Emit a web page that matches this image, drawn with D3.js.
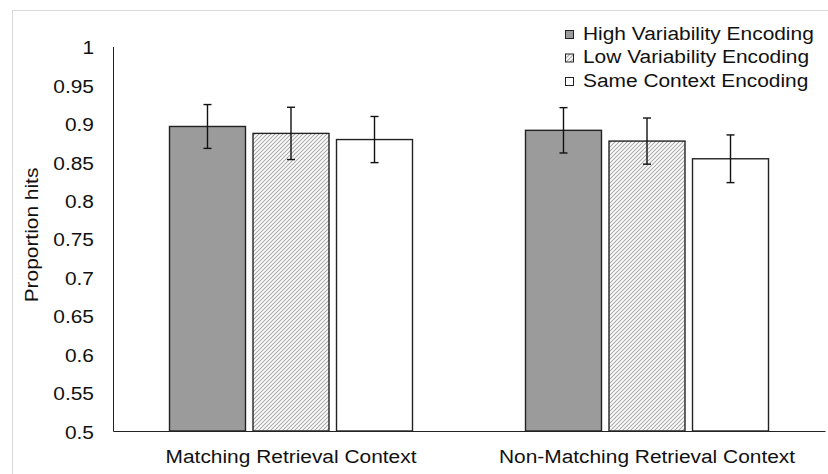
<!DOCTYPE html>
<html>
<head>
<meta charset="utf-8">
<script src="https://cdn.jsdelivr.net/npm/d3@7"></script>
<style>
  body { margin: 0; background: #fff; }
  text { font-family: "Liberation Sans", Arial, sans-serif; fill: #111; }
</style>
</head>
<body>
<div class="canvas"></div>
<script>
// Data
const groups = ['Matching Retrieval Context', 'Non-Matching Retrieval Context']
const series = ['High Variability Encoding', 'Low Variability Encoding', 'Same Context Encoding']
const means = [
  [0.896, 0.887, 0.879],
  [0.891, 0.877, 0.854]
]
const errors = [
  [0.0285, 0.034, 0.030],
  [0.0295, 0.030, 0.031]
]
const yTicks = [0.5, 0.55, 0.6, 0.65, 0.7, 0.75, 0.8, 0.85, 0.9, 0.95, 1]

const width = 828
const height = 474
const fontSize = 19
const stretch = 1.1

const svg = d3.select('.canvas')
  .append('svg')
  .attr('width', width)
  .attr('height', height)

// hatch pattern for low variability
const defs = svg.append('defs')
const hatch = defs.append('pattern')
  .attr('id', 'hatch')
  .attr('patternUnits', 'userSpaceOnUse')
  .attr('width', 4)
  .attr('height', 4)
hatch.append('rect').attr('width', 4).attr('height', 4).attr('fill', '#fff')
hatch.append('path')
  .attr('d', 'M-1,1 l2,-2 M0,4 l4,-4 M3,5 l2,-2')
  .attr('stroke', '#aaa')
  .attr('stroke-width', 1.1)

const fills = ['#9b9b9b', 'url(#hatch)', '#fff']

// outer frame
svg.append('rect')
  .attr('x', 12.5)
  .attr('y', 10.5)
  .attr('width', 840)
  .attr('height', 490)
  .attr('fill', 'none')
  .attr('stroke', '#d9d9d9')

// Scales
const plot = { left: 113, right: 825, top: 46.5, bottom: 431 }

const y = d3.scaleLinear()
  .domain([0.5, 1])
  .range([plot.bottom, plot.top])

const x0 = d3.scaleBand()
  .domain(groups)
  .range([plot.left, plot.right])

const groupPad = (x0.bandwidth() - 243) / 2
const x1 = d3.scaleBand()
  .domain(series)
  .range([groupPad, x0.bandwidth() - groupPad])
  .paddingInner(0.09)

const graph = svg.append('g')

// bars
groups.forEach((g, gi) => {
  const grp = graph.append('g').attr('transform', `translate(${x0(g)}, 0)`)
  grp.selectAll('rect')
    .data(series)
    .enter()
    .append('rect')
    .attr('x', d => x1(d))
    .attr('y', (d, i) => y(means[gi][i]))
    .attr('width', x1.bandwidth())
    .attr('height', (d, i) => plot.bottom - y(means[gi][i]))
    .attr('fill', (d, i) => fills[i])
    .attr('stroke', '#222')
    .attr('stroke-width', 1.4)

  // error bars
  series.forEach((s, i) => {
    const cx = x1(s) + x1.bandwidth() / 2
    const hi = y(means[gi][i] + errors[gi][i])
    const lo = y(means[gi][i] - errors[gi][i])
    grp.append('line')
      .attr('x1', cx).attr('x2', cx).attr('y1', hi).attr('y2', lo)
      .attr('stroke', '#111').attr('stroke-width', 1.4)
    ;[hi, lo].forEach(v => {
      grp.append('line')
        .attr('x1', cx - 4).attr('x2', cx + 4).attr('y1', v).attr('y2', v)
        .attr('stroke', '#111').attr('stroke-width', 1.4)
    })
  })
})

// Axes
const yAxis = d3.axisLeft(y).tickValues(yTicks).tickSize(0).tickFormat(d => String(d))
const yAxisGroup = svg.append('g')
  .attr('transform', `translate(${plot.left}, 0)`)
  .call(yAxis)
yAxisGroup.select('.domain').attr('stroke', '#222')
yAxisGroup.selectAll('text')
  .attr('x', -19 / stretch)
  .attr('dy', '0.38em')
  .attr('transform', `scale(${stretch},1)`)
  .style('font-size', fontSize + 'px')
  .attr('fill', '#111')

const xAxis = d3.axisBottom(x0).tickSize(0)
const xAxisGroup = svg.append('g')
  .attr('transform', `translate(0, ${plot.bottom})`)
  .call(xAxis)
xAxisGroup.select('.domain').attr('stroke', '#222')
xAxisGroup.selectAll('text')
  .attr('x', 0)
  .attr('y', 0)
  .attr('dy', 0)
  .attr('transform', `translate(0, 32) scale(${stretch},1)`)
  .style('font-size', fontSize + 'px')
  .attr('fill', '#111')

// y-axis label
svg.append('text')
  .attr('text-anchor', 'middle')
  .attr('transform', `translate(38, 235) rotate(-90) scale(${stretch},1)`)
  .style('font-size', fontSize + 'px')
  .text('Proportion hits')

// Legend
const legend = svg.append('g')
series.forEach((s, i) => {
  const by = 39.5 + i * 23.5
  legend.append('rect')
    .attr('x', 565.5)
    .attr('y', by - 9)
    .attr('width', 8)
    .attr('height', 8)
    .attr('fill', fills[i])
    .attr('stroke', '#222')
    .attr('stroke-width', 1)
  legend.append('text')
    .attr('transform', `translate(583, ${by}) scale(${stretch},1)`)
    .style('font-size', fontSize + 'px')
    .text(s)
})
</script>
</body>
</html>
